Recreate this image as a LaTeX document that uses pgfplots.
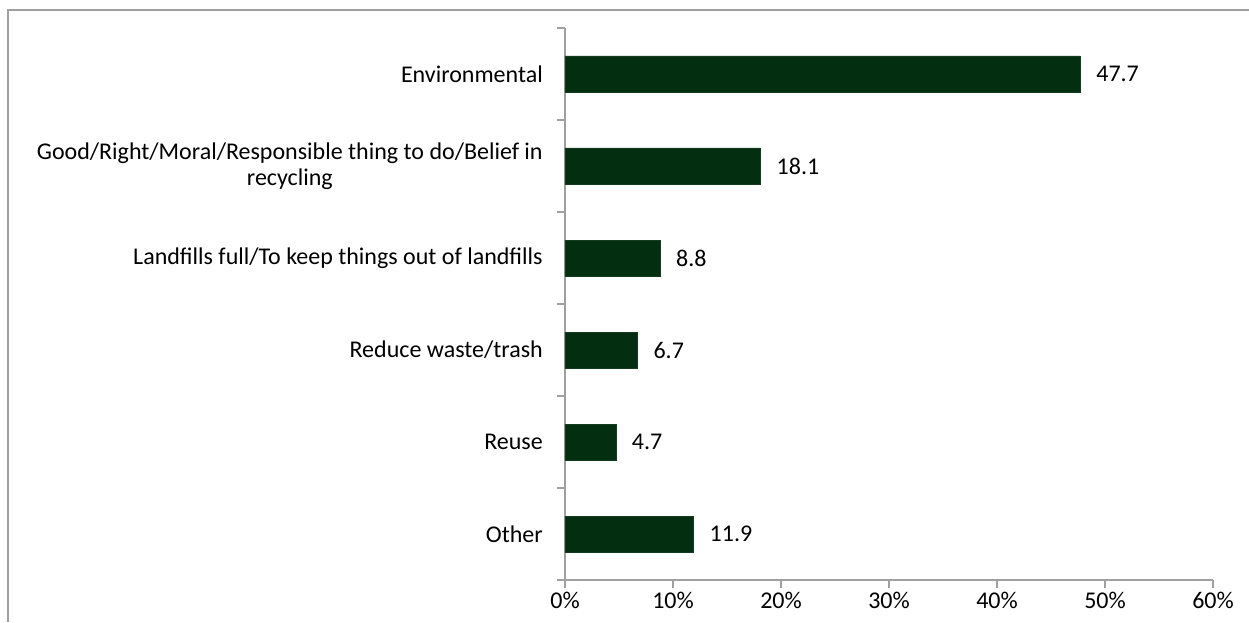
\documentclass[border=0pt]{standalone}
\usepackage{pgfplots}
\pgfplotsset{compat=1.18}
\usepackage{fontspec}
\setmainfont{Carlito}
\definecolor{barcol}{RGB}{3,46,15}
\definecolor{axcol}{RGB}{160,160,160}
\begin{document}
\fontsize{24}{26}\selectfont
\begin{tikzpicture}
\path[use as bounding box] (-565pt,-42pt) rectangle (684pt,580pt);
\draw[axcol, line width=1.5pt] (-557pt,-42pt) -- (-557pt,570pt) -- (684pt,570pt);
\begin{axis}[
  at={(0pt,0pt)}, anchor=south west,
  width=648pt, height=552pt, scale only axis,
  xbar, bar width=36pt,
  xmin=0, xmax=60, ymin=0, ymax=6,
  axis x line=bottom, axis y line=left,
  axis line style={axcol, line width=1.2pt, -},
  /pgf/number format/assume math mode=true,
  xtick={0,10,...,60},
  xticklabel={\pgfmathprintnumber{\tick}\%},
  ytick={0,...,6}, yticklabels={},
  tick align=outside, major tick length=8pt,
  tick style={axcol, line width=1.2pt},
  extra y ticks={0.5,1.5,2.5,3.5,4.5,5.5},
  extra y tick labels={Other, Reuse, Reduce waste/trash,
    Landfills full/To keep things out of landfills,
    {Good/Right/Moral/Responsible thing to do/Belief in\\recycling},
    Environmental},
  extra y tick style={major tick length=0pt},
  yticklabel style={align=center, xshift=-14pt, font=\fontsize{24}{26}\selectfont},
  xticklabel style={yshift=-3pt, inner sep=1pt, font=\fontsize{24}{26}\selectfont},
  point meta=x,
  nodes near coords={\pgfmathprintnumber[fixed,precision=1,fixed zerofill]{\pgfplotspointmeta}},
  nodes near coords style={anchor=west, inner sep=0pt, xshift=16pt, font=\fontsize{24}{26}\selectfont},
  clip=false,
]
\addplot[fill=barcol, draw=barcol!85!gray] coordinates {
  (11.9,0.5) (4.7,1.5) (6.7,2.5) (8.8,3.5) (18.1,4.5) (47.7,5.5)};
\end{axis}
\end{tikzpicture}
\end{document}
